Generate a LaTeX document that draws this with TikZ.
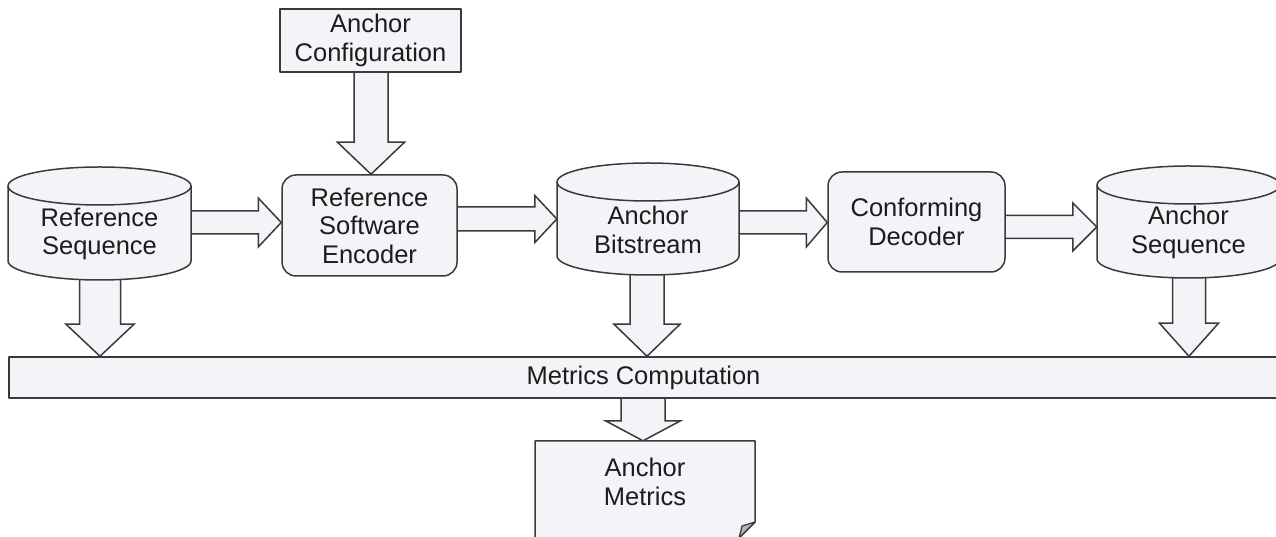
\documentclass[tikz,border=0pt]{standalone}
\usepackage{fontspec}
\setmainfont{Liberation Sans}
\usetikzlibrary{calc,backgrounds}
\pgfdeclarelayer{paper}
\pgfsetlayers{paper,background,main}
\definecolor{edge}{HTML}{3A3A3A}
\definecolor{boxfill}{HTML}{F3F4F8}
\definecolor{foldgray}{HTML}{B4B4B4}
\definecolor{ink}{HTML}{1C1C1C}
\tikzset{
  shp/.style={draw=edge, fill=boxfill, line width=1.5pt, line join=round},
  blk/.style={draw=edge, fill=boxfill, line width=1.5pt, line join=miter},
  lbl/.style={text=ink, align=center, font=\fontsize{25.5}{28.5}\selectfont, inner sep=0pt},
  sqbox/.style={shp, lbl, rectangle},
  rbox/.style={shp, lbl, rectangle, rounded corners=14pt},
}
% horizontal block arrow: source, target, Y, shaft half, head half, head length
\newcommand\rarr[6]{\draw[blk] let \p1=(#1.center), \p2=(#2.west) in
  (\x1,#3pt+#4pt) -- (\x2-#6pt,#3pt+#4pt) -- (\x2-#6pt,#3pt+#5pt) -- (\x2,#3pt)
  -- (\x2-#6pt,#3pt-#5pt) -- (\x2-#6pt,#3pt-#4pt) -- (\x1,#3pt-#4pt);}
% vertical (down) block arrow: source, target, X, shaft half, head half, head length
\newcommand\darr[6]{\draw[blk] let \p1=(#1.center), \p2=(#2.north) in
  (#3pt-#4pt,\y1) -- (#3pt-#4pt,\y2+#6pt) -- (#3pt-#5pt,\y2+#6pt) -- (#3pt,\y2)
  -- (#3pt+#5pt,\y2+#6pt) -- (#3pt+#4pt,\y2+#6pt) -- (#3pt+#4pt,\y1);}
% cylinder: cx, top Y, bottom Y, rx, ry
\newcommand\cyl[5]{%
  \draw[shp] (#1-#4,#2-#5) -- (#1-#4,#3+#5)
    arc[start angle=180,end angle=360,x radius=#4pt,y radius=#5pt]
    -- (#1+#4,#2-#5)
    arc[start angle=0,end angle=180,x radius=#4pt,y radius=#5pt] -- cycle;
  \draw[shp, fill=none] (#1-#4,#2-#5)
    arc[start angle=180,end angle=360,x radius=#4pt,y radius=#5pt];}
\begin{document}
\begin{tikzpicture}[x=1pt,y=1pt]
\useasboundingbox (0,0) rectangle (1276,537);
\begin{pgfonlayer}{paper}
\fill[white] (0,0) rectangle (1276,537);
\end{pgfonlayer}
\clip (0,0) rectangle (1276,537);

% top configuration box
\node[sqbox, minimum width=181pt, minimum height=63pt] (cfg) at (370.5,496.5) {Anchor\\Configuration};

% process boxes
\node[rbox, minimum width=175pt, minimum height=101pt] (enc) at (369.5,311.5) {Reference\\Software\\Encoder};
\node[rbox, minimum width=177pt, minimum height=100pt] (dec) at (916.5,315) {Conforming\\Decoder};

% cylinders
\cyl{99.5}{370}{257}{91.5}{19}
\node[lbl, minimum width=183pt, minimum height=92pt] (refseq) at (99.5,303) {Reference\\Sequence};
\cyl{648}{374}{262}{91}{19}
\node[lbl, minimum width=182pt, minimum height=90pt] (bits) at (648,307) {Anchor\\Bitstream};
\cyl{1188.5}{371}{259}{91.5}{19}
\node[lbl, minimum width=183pt, minimum height=91pt] (aseq) at (1188.5,304.5) {Anchor\\Sequence};

% metrics bar
\node[sqbox, minimum width=1269pt, minimum height=41pt] (metrics) at (643.5,159.5) {Metrics Computation};

% document shape
\draw[shp] (535,-10) -- (535,96) -- (755,96) -- (755,15) -- (739,-1) -- (739,-10) -- cycle;
\draw[draw=edge, fill=foldgray, line width=1.2pt, line join=round] (755,15) -- (742,11) -- (739,-1) -- cycle;
\node[lbl, minimum width=220pt, minimum height=82pt] (doc) at (645,55) {Anchor\\Metrics};

% block arrows underneath the shapes
\begin{pgfonlayer}{background}
\rarr{refseq}{enc}{314.5}{11.5}{24.5}{23}
\rarr{enc}{bits}{318}{12}{23.5}{22}
\rarr{bits}{dec}{314.5}{11.5}{24.5}{21}
\rarr{dec}{aseq}{310}{11.5}{24}{24}
\darr{cfg}{enc}{371}{17}{33.5}{32}
\darr{refseq}{metrics}{100}{20.5}{34}{32}
\darr{bits}{metrics}{647}{17}{33}{32}
\darr{aseq}{metrics}{1189}{16.5}{29.5}{33}
\darr{metrics}{doc}{643}{22}{37.5}{20}
\end{pgfonlayer}
\end{tikzpicture}
\end{document}
